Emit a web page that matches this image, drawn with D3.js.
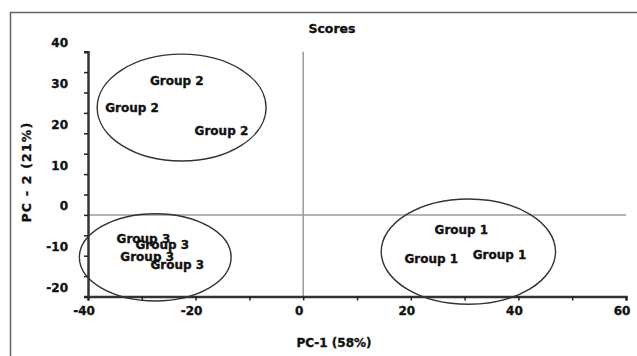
<!DOCTYPE html>
<html>
<head>
<meta charset="utf-8">
<script src="https://cdn.jsdelivr.net/npm/d3@7"></script>
<style>
  html, body { margin: 0; padding: 0; background: #fff; }
  svg { display: block; }
  text { font-family: "DejaVu Sans", sans-serif; font-weight: bold; fill: #111;
         stroke: #111; stroke-width: 0.35px; }
</style>
</head>
<body>
<svg id="chart" width="637" height="356"></svg>
<script>
// PCA score plot: sample labels positioned at their PC-1 / PC-2 scores
const pointGroup = ["Group 2", "Group 2", "Group 2",
                    "Group 3", "Group 3", "Group 3", "Group 3",
                    "Group 1", "Group 1", "Group 1"];
const pointPC1 = [-23.5, -31.8, -15.2, -29.7, -26.2, -29.0, -23.4, 29.4, 23.8, 36.5];
const pointPC2 = [32.8, 26.2, 20.7, -5.9, -7.3, -10.2, -12.3, -3.7, -10.8, -9.8];

// confidence ellipses (centre and semi-axes in score units)
const ellipseGroup = ["Group 2", "Group 3", "Group 1"];
const ellipseCX = [-22.6, -27.5, 30.7];
const ellipseCY = [26.3, -10.4, -9.0];
const ellipseRX = [15.7, 14.1, 16.2];
const ellipseRY = [13.1, 10.7, 12.9];

const xTicks = [-40, -30, -20, -10, 0, 10, 20, 30, 40, 50, 60];
const xTickLabels = [-40, -20, 0, 20, 40, 60];
const yTicks = [-20, -15, -10, -5, 0, 5, 10, 15, 20, 25, 30, 35, 40];
const yTickLabels = [-20, -10, 0, 10, 20, 30, 40];

const svg = d3.select("#chart");

const x = d3.scaleLinear().domain([-40, 60]).range([88, 626]);
const y = d3.scaleLinear().domain([-20, 40]).range([296.5, 51.7]);

// outer frame (top and left edges)
svg.append("path")
  .attr("d", "M10.5,356 L10.5,12.5 L637,12.5")
  .attr("fill", "none").attr("stroke", "#666").attr("stroke-width", 1.5);

// zero reference lines
svg.append("line")
  .attr("x1", x(-40)).attr("x2", x(60)).attr("y1", y(0)).attr("y2", y(0))
  .attr("stroke", "#9a9a9a").attr("stroke-width", 1.5);
svg.append("line")
  .attr("x1", x(0)).attr("x2", x(0)).attr("y1", y(40)).attr("y2", y(-20))
  .attr("stroke", "#9a9a9a").attr("stroke-width", 1.5);

// x axis
const xAxis = svg.append("g").attr("transform", `translate(0,${y(-20)})`)
  .call(d3.axisBottom(x).tickValues(xTicks).tickSize(4).tickSizeOuter(4).tickFormat(""));
xAxis.select(".domain").attr("stroke", "#333").attr("stroke-width", 2.5);
xAxis.selectAll(".tick line").attr("stroke", "#222").attr("stroke-width", 1.5);

svg.append("g").selectAll("text").data(xTickLabels).join("text")
  .attr("x", d => x(d) - 4).attr("y", 315)
  .attr("text-anchor", "middle").attr("font-size", 12)
  .text(d => d);

// y axis
const yAxis = svg.append("g").attr("transform", `translate(${x(-40)},0)`)
  .call(d3.axisLeft(y).tickValues(yTicks).tickSize(4).tickSizeOuter(4).tickFormat(""));
yAxis.select(".domain").attr("stroke", "#333").attr("stroke-width", 2.5);
yAxis.selectAll(".tick line").attr("stroke", "#222").attr("stroke-width", 1.5);

svg.append("g").selectAll("text").data(yTickLabels).join("text")
  .attr("x", 68).attr("y", d => y(d) - 4.5)
  .attr("text-anchor", "end").attr("font-size", 12)
  .text(d => d);

// group ellipses
svg.append("g").selectAll("ellipse").data(ellipseGroup).join("ellipse")
  .attr("cx", (d, i) => x(ellipseCX[i]))
  .attr("cy", (d, i) => y(ellipseCY[i]))
  .attr("rx", (d, i) => x(ellipseCX[i] + ellipseRX[i]) - x(ellipseCX[i]))
  .attr("ry", (d, i) => y(ellipseCY[i]) - y(ellipseCY[i] + ellipseRY[i]))
  .attr("fill", "none").attr("stroke", "#333").attr("stroke-width", 1.4);

// sample labels
svg.append("g").selectAll("text").data(pointGroup).join("text")
  .attr("x", (d, i) => x(pointPC1[i]))
  .attr("y", (d, i) => y(pointPC2[i]))
  .attr("dy", "0.36em")
  .attr("text-anchor", "middle").attr("font-size", 12)
  .text(d => d);

// titles
svg.append("text").attr("x", 332).attr("y", 32.5)
  .attr("text-anchor", "middle").attr("font-size", 12.5).text("Scores");
svg.append("text").attr("x", 334).attr("y", 347)
  .attr("text-anchor", "middle").attr("font-size", 12).text("PC-1 (58%)");
svg.append("text")
  .attr("transform", "translate(31,172) rotate(-90)")
  .attr("text-anchor", "middle").attr("font-size", 12.5)
  .attr("letter-spacing", 1.2)
  .text("PC - 2 (21%)");
</script>
</body>
</html>
